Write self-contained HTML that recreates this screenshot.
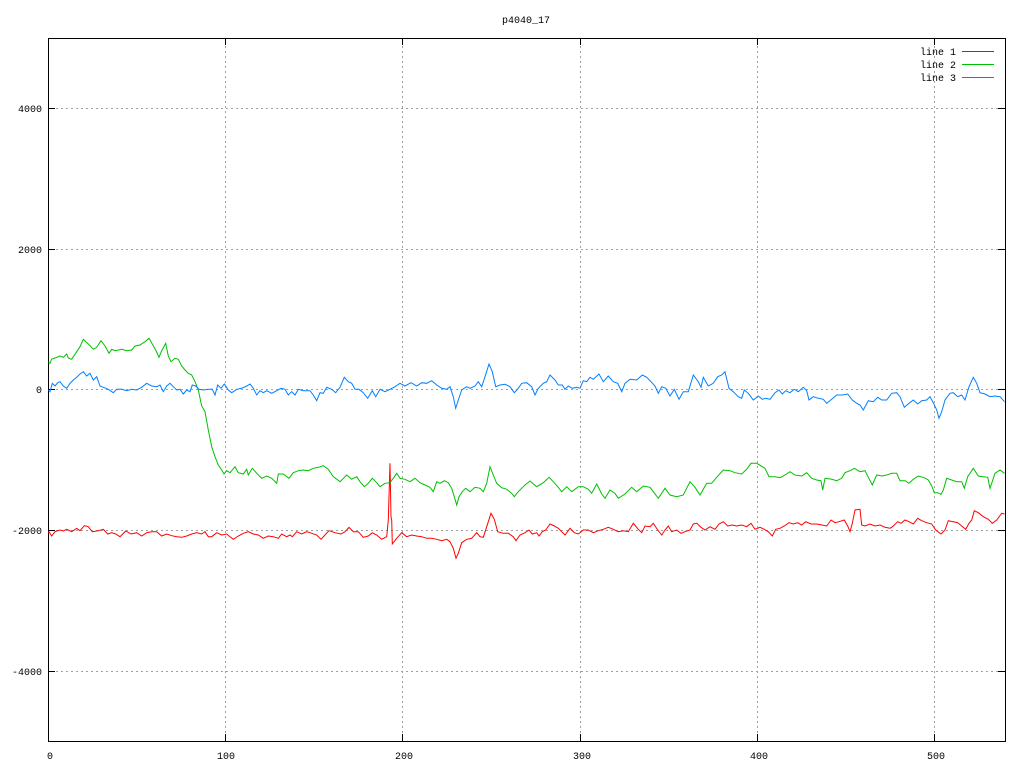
<!DOCTYPE html>
<html><head><meta charset="utf-8"><style>
html,body{margin:0;padding:0;background:#fff;}
svg{display:block;}
text{font-family:"Liberation Mono",monospace;font-size:10px;fill:#000;}
</style></head><body>
<svg width="1024" height="768" viewBox="0 0 1024 768" xmlns="http://www.w3.org/2000/svg">
<rect width="1024" height="768" fill="#fff"/>
<g stroke="#a0a0a0" stroke-width="1" stroke-dasharray="2,3" fill="none">
<line x1="56" y1="108.5" x2="998" y2="108.5"/>
<line x1="56" y1="249.5" x2="998" y2="249.5"/>
<line x1="56" y1="389.5" x2="998" y2="389.5"/>
<line x1="56" y1="530.5" x2="998" y2="530.5"/>
<line x1="56" y1="671.5" x2="998" y2="671.5"/>
<line x1="225.5" y1="46" x2="225.5" y2="734"/>
<line x1="402.5" y1="46" x2="402.5" y2="734"/>
<line x1="580.5" y1="46" x2="580.5" y2="734"/>
<line x1="757.5" y1="46" x2="757.5" y2="734"/>
<line x1="934.5" y1="46" x2="934.5" y2="734"/>
</g>
<g stroke="#000" stroke-width="1" fill="none">
<rect x="48.5" y="38.5" width="957" height="703"/>
<path d="M48 108.5h7M48 249.5h7M48 389.5h7M48 530.5h7M48 671.5h7M1005 108.5h-7M1005 249.5h-7M1005 389.5h-7M1005 530.5h-7M1005 671.5h-7M225.5 741v-7M402.5 741v-7M580.5 741v-7M757.5 741v-7M934.5 741v-7M225.5 38v7M402.5 38v7M580.5 38v7M757.5 38v7M934.5 38v7"/>
</g>
<g text-anchor="end">
<text x="42" y="112">4000</text>
<text x="42" y="253">2000</text>
<text x="42" y="393">0</text>
<text x="42" y="534">-2000</text>
<text x="42" y="675">-4000</text>
</g>
<g text-anchor="middle">
<text x="50" y="759">0</text>
<text x="226" y="759">100</text>
<text x="404" y="759">200</text>
<text x="582" y="759">300</text>
<text x="759" y="759">400</text>
<text x="936" y="759">500</text>
<text x="526" y="23">p4040_17</text>
</g>
<g text-anchor="end">
<text x="956" y="55">line 1</text>
<text x="956" y="68">line 2</text>
<text x="956" y="81">line 3</text>
</g>
<g stroke-width="1" fill="none">
<line x1="962" y1="51.5" x2="994" y2="51.5" stroke="#ff0000"/>
<line x1="962" y1="64.5" x2="994" y2="64.5" stroke="#00c000"/>
<line x1="962" y1="77.5" x2="994" y2="77.5" stroke="#0080ff"/>
</g>
<g fill="none" stroke-width="1" stroke-linejoin="miter">
<polyline stroke="#ff0000" points="48.5,533 49,531.7 51.7,536 55,531.7 60,530 63.3,531 66.7,529.3 71.7,531.7 76.7,528.3 80,530.7 84.3,525.7 88.3,526.7 92.3,531.7 98.3,530.7 103.3,529.3 107.7,534 111.7,532.7 115.7,534 120,536.7 125.7,531 131,534 136.7,532.7 141.7,536 146.7,532.7 151.7,531.7 156.7,531.7 161.7,536 166.7,534 171.7,535.7 176.7,536.7 181.7,537.3 186.7,536 191.7,534 196.7,532.7 201.7,534 205,531.7 208.3,536.7 211.7,536.7 216.7,532.7 221.7,535 226.7,534 230,536.7 233.3,539.3 238.3,536 243.3,533.3 248.3,531.7 253.3,534 258.3,535 263.3,538.3 268.3,536 273.3,536.7 278.3,538.3 281.7,534 286.7,536.7 290,535 292.3,536.7 296.7,531.7 301.7,534 306.7,531.7 311.7,533.3 316.7,535 321,539.3 325,535 329,530.7 335,532.7 341,534 345,531.7 349,527.3 353.3,531.7 358.3,531.7 363.3,537.3 368.3,536 372.3,532.7 376.7,535 381.7,539.3 386.7,536.7 388.3,520 390,463.3 391,516.7 391.7,520 392.3,544 396.7,538.3 401.7,532.7 406.7,536.7 411.7,535 416.7,536 421.7,536.7 426.7,538.3 431.7,538.3 436.7,539.3 441.7,540.7 446.7,539.3 450,541.7 453.3,548.3 456,558.3 458.3,553.3 461.7,542.7 466.7,539.3 471.7,538.3 476.7,532.7 480,536.7 483.3,537.3 486.7,526.7 491,513.3 494.3,519.3 497.7,531.7 503.3,533.3 508.3,533.3 513.3,536.7 516,540.7 520,535 525,532.7 529,530 532.3,534 536.7,532.7 539,536 542.3,531.7 545.7,530 550,524 554.3,526 558.3,528.3 561.7,531.7 565,535 570,528.3 574.3,532.7 578.3,534 583.3,530 588.3,530 593.3,532.7 598.3,530.7 603.3,529.3 608.3,527.3 613.3,529.3 618.3,531.7 623.3,530.7 628.3,531.7 633.3,523.3 638.3,529.3 641.7,532.7 645,526 650,526.7 653.3,523.3 657.7,530 661.7,535 665,530 668.3,526 671.7,531.7 676.7,530 681,533.3 685,531.7 690,530 693.3,524 696.7,523.3 701,527.3 705,530 710,526.7 715,529.3 719,524 723.3,521.7 727.7,526 732.3,525 736.7,526 741.7,525 746.7,526.7 751,523.3 755,529.3 760,527.3 764.3,529.3 768.3,531.7 772.3,536 775.7,529.3 780,528.3 784.3,526 789,522.7 793.3,524 797.7,522.7 801.7,525 805.7,521.7 811,524 816.7,524 821.7,525 826.7,526 831,520 835,522.7 839,521.7 844.3,520 847.7,526 850,531.7 852.3,523.3 855,510 860,509.3 861.7,525 865,526 870,524 875,526 880,525 885,527.3 890,528.3 893.3,526 897.7,521.7 901,523.3 905,520 909,521.7 913.3,524 917.7,518.3 921.7,520.7 926.7,522.7 931.7,524 935.7,530 941,534 945,530 948.3,520.7 953.3,521.7 957.7,522.7 961.7,526 965.7,529.3 969,523.3 971.7,520 974.3,510.7 978.3,512.7 983.3,516.7 988.3,519.3 992.3,523.3 996.7,520 1001.7,513.3 1004.5,514"/>
<polyline stroke="#00c000" points="48.5,362 50,363.3 51.7,359 55,358 60,356 63.3,357.3 66.7,354 68.3,358 71.7,359.3 76.7,351.7 80,346.7 83.3,339.3 88.3,344 93.3,349.3 96.7,347.3 101,340.7 105,346 109,353.3 111.7,349.3 115,350.7 121.7,349.3 126.7,350.7 131.7,350 135,346 140,345 145,341.7 149,338.3 152.3,344 155.7,350 159,357.3 161.7,350.7 165.7,343.3 168.3,356 171,361.7 175,358.3 178.3,359.3 181.7,366 185,370 188.3,373.3 191.7,375 195,381.7 198.3,390 201.7,406 205,411.7 208.3,430 211.7,446.7 215,456.7 218.3,465 221.7,470 224,474 226.7,470.7 230,472.7 235,466.7 238.3,472.7 243.3,474 246.7,469.3 248.3,475 252.3,468.3 256.7,473.3 261.7,478.3 266.7,476 271.7,478.3 276.7,483.3 278.3,474 283.3,474 289,478.3 293.3,472.7 298.3,470.7 303.3,470 308.3,470.7 313.3,468.3 318.3,467.3 323.3,465.7 328.3,469.3 333.3,476.7 340,481.7 346.7,475 351.7,479.3 356.7,476.7 360,481.7 364.3,486.7 368.3,483.3 372.3,478.3 375.7,481.7 380,486.7 385,483.3 390,482.7 393.3,478.3 396.7,473.3 400,478.3 405,479.3 410,481.7 415,478.3 420,482.7 425,485 430,487.3 433.3,491.7 436.7,481.7 440,483.3 444.3,480.7 448.3,482.7 451.7,488.3 454.3,496.7 456.7,505 459,496.7 462.3,491.7 465.7,488.3 470,491.7 475,487.3 480,488.3 483.3,491.7 486.7,483.3 490,466.7 493.3,475 496.7,483.3 501.7,487.7 506.7,489.3 511.7,493.3 514.3,496.7 518.3,491.7 523.3,486.7 525,485 530,481 536.7,486.7 543.3,482.7 549,477.3 553.3,481.7 558.3,487.3 561.7,491.7 566.7,486.7 571.7,491.7 578.3,486.7 583.3,486.7 588.3,489.3 591.7,493.3 596.7,484 601.7,494 605,498.3 610,490 615,493.3 618.3,498.3 625,494 631.7,487.3 636.7,491.7 643.3,486 650,487.3 653.3,491.7 658.3,498.3 665,488.3 670,495 676.7,496.7 683.3,495 690,481.7 695,487.3 700,495 706.7,483.3 711.7,483.3 716.7,477.3 723.3,470 730,470.7 735,472.7 741.7,474 746.7,469.3 751,463.3 756.7,463.3 763.3,467.3 765,468.3 769,476.7 775,476.7 780,477.7 785,475 790,471.7 795,475 801.7,476 806.7,472.7 811.7,478.3 816.7,480 821,480.7 822.7,490 825,478.3 831.7,479.3 836.7,480.7 841.7,478.3 845,472.7 850,470.7 854.3,468.3 860,471.7 865,470.7 868.3,477.3 872.3,485 876.7,475 881.7,476 886.7,475 891.7,473.3 896.7,473.3 900,480.7 905,480.7 909,483.3 913.3,479.3 918.3,476 924.3,477.7 928.3,480 931.7,486 934.3,492.7 937.7,492.7 941,494.3 943.3,490 946.7,478.3 951.7,480 956.7,481.7 961.7,481.7 964.3,488.3 967.7,476.7 973.3,468.3 978.3,476 983.3,476.7 987.7,477.3 990,488.3 995,473.3 1000,470 1004.5,473.3"/>
<polyline stroke="#0080ff" points="48.5,390 50,391.7 52.3,383.3 55,386 57.7,382.7 60,381.7 63.3,386 66.7,388.3 70,383.3 73.3,380 76.7,377.3 80,374 83.3,371.7 86.7,376 90,373.3 93.3,380 96.7,376.7 100,386 103.3,387.3 108.3,389.3 113.3,392.7 116.7,389.3 121.7,389.3 126.7,390.7 131.7,389.3 136.7,390 141.7,387.3 146.7,383.3 151.7,386 156.7,386.7 160,385 163.3,391.7 166.7,386 170,383.3 173.3,386.7 176.7,390 180,389.3 183.3,394 186.7,390 190,391.7 192.3,385 195.7,386 199,389.3 203.3,390 208.3,389.3 212.3,389.3 215,395 217.7,385 221,388.3 224.3,384 228.3,390 231.7,392.7 236.7,389.3 241.7,388.3 246.7,386 250,384 253.3,388.3 256.7,395 260,390.7 263.3,392.7 266.7,390.7 271.7,393.3 276.7,390.7 281,388.3 285,389.3 288.3,395 291.7,391.7 295,395 298.3,389.3 303.3,390.7 310,390.7 313.3,395 316.7,400.7 320,392.7 323.3,393.3 326.7,387.3 331.7,389.3 335.7,392.7 340,387.3 344.3,377.3 348.3,381.7 351.7,383.3 355,389.3 359,389.3 363.3,392.7 367.7,398.3 372.3,390.7 375.7,396.7 380,389.3 385,391.7 390,389.3 395,386.7 400,383.3 405,386 411,382.7 416.7,386 421.7,382.7 426.7,383.3 431.7,380.7 436.7,385 441.7,388.3 446.7,389.3 450,386.7 453.3,396.7 455.7,408.3 458.3,400 461.7,390 466.7,386.7 470,388.3 475,386 478.3,381.7 481.7,386.7 485,376.7 489,364 492.3,371.7 495.7,386.7 500,385 505,384.3 510,386.7 514.3,392.7 518.3,388.3 521.7,383.3 526.7,382.7 531.7,386.7 535,395 538.3,388.3 543.3,383.3 546.7,381.7 550,375 555,380 558.3,385 562.3,385 565,389.3 568.3,386 572.3,388.3 576.7,387.3 580,388.3 583.3,380.7 586.7,381.7 590,377.3 593.3,379.3 599,374 603.3,381.7 608.3,376 613.3,381.7 617.7,383.3 621.7,391.7 625,383.3 630,379.3 636.7,380 642.3,375 646.7,377.3 651,381.7 655,386 658.3,393.3 661.7,386.7 665.7,388.3 670,396 674.3,389.3 679,399.3 683.3,391.7 688.3,391.7 693.3,375 698.3,381.7 701,387.3 703.3,377.3 708.3,386 713.3,383.3 717.7,376.7 721.7,375 725,371.7 729,388.3 733.3,391.7 738.3,396.7 741.7,398.3 744.3,390 748.3,393.3 753.3,400 758.3,396 762.3,399.3 765.7,398.3 770,399.3 775,392.7 779,390 782.3,394 785.7,390.7 790,392.7 794.3,389.3 798.3,391.7 803.3,387.3 806.7,390.7 809,400 813.3,396.7 818.3,398.3 823.3,399.3 826.7,403.3 831.7,399.3 836.7,395 842.3,395 847.7,394 852.3,400 856.7,403.3 860,405 863.3,410 868.3,400.7 873.3,401.7 877.7,397.3 881.7,400 886.7,400 891.7,393.3 896.7,392.7 900,396.7 904.3,407.3 909,403.3 913.3,400 917.7,404 921.7,400.7 926.7,400 930,396.7 933.3,402.7 936.7,410 939,418.3 941.7,411.7 945,400 950,393.3 953.3,392.7 957.7,396.7 961.7,395 965,400 969,386.7 973.3,377.3 976.7,383.3 980,392.7 985,394 990,396.7 995,396 1000,396.7 1004.5,401.7"/>
</g>
</svg>
</body></html>
